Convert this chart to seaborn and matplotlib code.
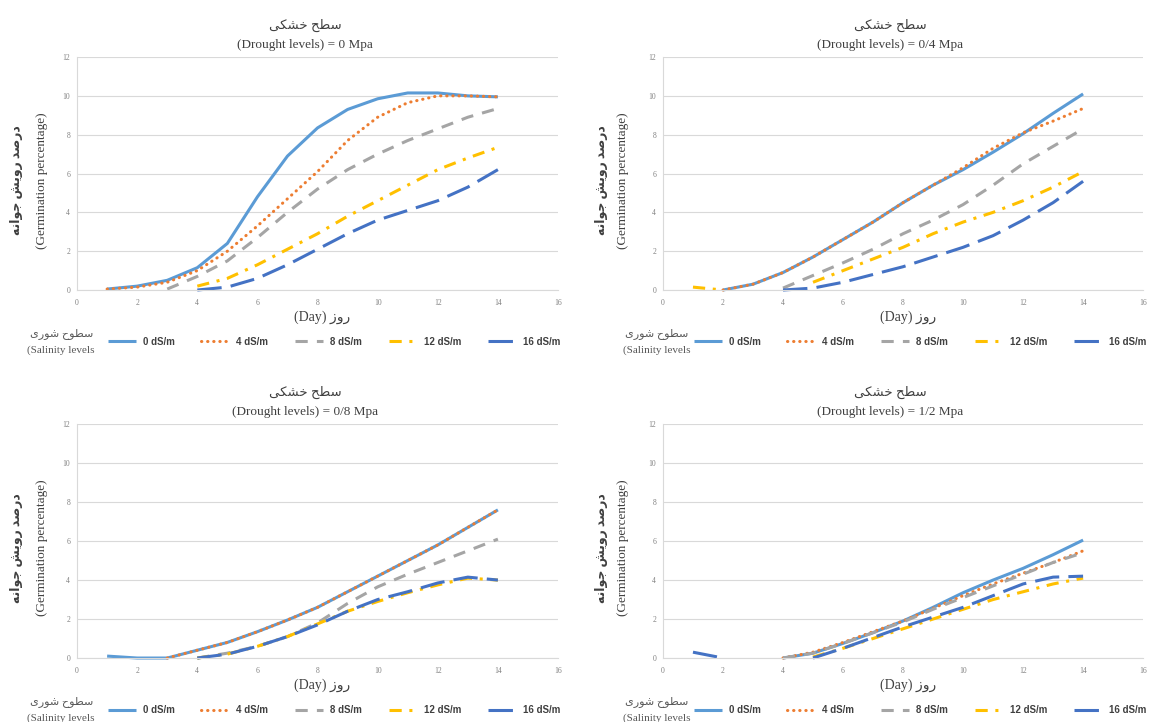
import matplotlib
matplotlib.use('Agg')
import matplotlib.pyplot as plt
import seaborn as sns

# days on the x axis
days = list(range(1, 15))

series_labels = ['0 dS/m', '4 dS/m', '8 dS/m', '12 dS/m', '16 dS/m']
panel_titles = ['(Drought levels) = 0 Mpa', '(Drought levels) = 0/4 Mpa',
                '(Drought levels) = 0/8 Mpa', '(Drought levels) = 1/2 Mpa']

# germination values (None = no point)
# drought 0 Mpa
a_0 = [0.05, 0.2, 0.5, 1.15, 2.4, 4.8, 6.9, 8.35, 9.3, 9.85, 10.15, 10.15, 10.0, 9.95]
a_4 = [0.05, 0.15, 0.4, 1.0, 2.0, 3.3, 4.7, 6.1, 7.7, 8.9, 9.65, 10.0, 10.0, 9.95]
a_8 = [None, None, 0.05, 0.7, 1.5, 2.7, 4.0, 5.2, 6.2, 7.0, 7.7, 8.3, 8.9, 9.35]
a_12 = [None, None, None, 0.2, 0.6, 1.3, 2.1, 2.9, 3.8, 4.6, 5.4, 6.2, 6.8, 7.35]
a_16 = [None, None, None, 0.0, 0.15, 0.6, 1.3, 2.1, 2.9, 3.6, 4.1, 4.6, 5.3, 6.2]
# drought 0/4 Mpa
b_0 = [None, 0.0, 0.3, 0.9, 1.7, 2.6, 3.5, 4.5, 5.4, 6.2, 7.1, 8.05, 9.1, 10.1]
b_4 = [None, 0.0, 0.3, 0.9, 1.7, 2.6, 3.5, 4.5, 5.4, 6.3, 7.3, 8.1, 8.7, 9.35]
b_8 = [None, None, None, 0.1, 0.75, 1.4, 2.1, 2.9, 3.6, 4.4, 5.4, 6.5, 7.4, 8.3]
b_12 = [0.15, 0.0, None, None, 0.4, 1.0, 1.6, 2.2, 2.9, 3.5, 4.0, 4.6, 5.3, 6.1]
b_16 = [None, None, None, 0.0, 0.1, 0.4, 0.8, 1.2, 1.7, 2.2, 2.8, 3.6, 4.5, 5.6]
# drought 0/8 Mpa
c_0 = [0.1, 0.0, 0.0, 0.4, 0.8, 1.35, 1.95, 2.6, 3.4, 4.2, 5.0, 5.8, 6.7, 7.6]
c_4 = [None, None, 0.0, 0.4, 0.8, 1.35, 1.95, 2.6, 3.4, 4.2, 5.0, 5.8, 6.7, 7.6]
c_8 = [None, None, None, 0.0, 0.25, 0.6, 1.1, 1.8, 2.8, 3.65, 4.3, 4.9, 5.5, 6.1]
c_12 = [None, None, None, 0.0, 0.2, 0.6, 1.1, 1.75, 2.4, 2.9, 3.35, 3.75, 4.1, 4.0]
c_16 = [None, None, None, 0.0, 0.2, 0.6, 1.1, 1.7, 2.4, 3.0, 3.4, 3.85, 4.15, 4.0]
# drought 1/2 Mpa
d_0 = [None, None, None, 0.0, 0.25, 0.75, 1.3, 1.9, 2.6, 3.35, 4.0, 4.6, 5.3, 6.05]
d_4 = [None, None, None, 0.0, 0.3, 0.8, 1.35, 1.9, 2.55, 3.2, 3.8, 4.35, 4.9, 5.5]
d_8 = [None, None, None, 0.0, 0.25, 0.75, 1.3, 1.85, 2.5, 3.1, 3.7, 4.3, 4.9, 5.4]
d_12 = [None, None, None, None, 0.05, 0.5, 1.0, 1.5, 2.0, 2.5, 3.0, 3.4, 3.8, 4.1]
d_16 = [0.3, 0.0, None, None, 0.0, 0.5, 1.05, 1.6, 2.1, 2.6, 3.2, 3.8, 4.15, 4.2]

panels = [[a_0, a_4, a_8, a_12, a_16], [b_0, b_4, b_8, b_12, b_16],
          [c_0, c_4, c_8, c_12, c_16], [d_0, d_4, d_8, d_12, d_16]]

colors = ['#5B9BD5', '#ED7D31', '#A5A5A5', '#FFC000', '#4472C4']
styles = [(0, ()), (0, (0.1, 1.9)), (0, (4, 3)), (0, (4, 2.5, 1, 2.5)), (0, (8, 3))]

# Persian text in presentation forms, visual order (matplotlib does not shape Arabic)
fa_title = '\uFEF0\uFEDC\uFEB8\uFEA7 \uFEA2\uFEC4\uFEB3'            # سطح خشکی
fa_ylabel = '\uFEEA\uFEE7\uFE8D\uFEEE\uFE9F \uFEB6\uFEF3\uFEED\uFEAD \uFEAA\uFEBB\uFEAD\uFEA9'  # درصد رویش جوانه
fa_day = '\uFEAF\uFEED\uFEAD'                                         # روز
fa_salt = '\uFEEF\uFEAD\uFEEE\uFEB7 \uFEA1\uFEEE\uFEC4\uFEB3'        # سطوح شوری

sns.set_style('white')
plt.rcParams['font.family'] = ['Liberation Serif', 'DejaVu Sans']

fig = plt.figure(figsize=(11.57, 7.22), dpi=100)
positions = [[0.0666, 0.5983, 0.4157, 0.3227], [0.573, 0.5983, 0.415, 0.3227],
             [0.0666, 0.0886, 0.4157, 0.324], [0.573, 0.0886, 0.415, 0.324]]


def runs(xs, ys):
    seg_x, seg_y = [], []
    for x, y in zip(xs, ys):
        if y is None:
            if seg_x:
                yield seg_x, seg_y
            seg_x, seg_y = [], []
        else:
            seg_x.append(x)
            seg_y.append(y)
    if seg_x:
        yield seg_x, seg_y


txt = '#404040'
for i, (pos, data, title) in enumerate(zip(positions, panels, panel_titles)):
    ax = fig.add_axes(pos)
    right = i % 2 == 1
    handles = []
    for vals, lab, col, ls in zip(data, series_labels, colors, styles):
        first = True
        for sx, sy in runs(days, vals):
            if len(sx) < 2:
                continue
            sns.lineplot(x=sx, y=sy, ax=ax, color=col, linewidth=2.2, linestyle=ls,
                         dash_capstyle='round' if lab == '4 dS/m' else 'butt',
                         clip_on=False, label=lab if first else '_nolegend_')
            if first:
                handles.append(ax.get_lines()[-1])
            first = False

    ax.set_xlim(0, 16)
    ax.set_ylim(0, 12)
    ax.set_xticks(range(0, 17, 2))
    ax.set_yticks(range(0, 13, 2))
    ax.grid(axis='y', color='#D9D9D9', linewidth=0.8)
    ax.set_axisbelow(True)
    for s in ['top', 'right']:
        ax.spines[s].set_visible(False)
    for s in ['left', 'bottom']:
        ax.spines[s].set_color('#D9D9D9')
        ax.spines[s].set_linewidth(0.8)
    ax.tick_params(length=0, labelsize=5.5, labelcolor='#808080')
    ax.tick_params(axis='x', pad=6.5)
    ax.tick_params(axis='y', pad=5)
    ax.set_xlabel('')
    ax.set_ylabel('')

    # titles
    ax.text(0.474, 1.0 + 32 / 233, fa_title, transform=ax.transAxes, ha='center',
            va='center', fontsize=9.5, color=txt)
    ax.text(0.474, 1.0 + 12 / 233, title, transform=ax.transAxes, ha='center',
            va='center', fontsize=9.5, color=txt)

    # y label, two lines
    yl_fa = -0.127 if right else -0.125
    yl_en = -0.083 if right else -0.073
    ax.text(yl_fa, 0.47, fa_ylabel, transform=ax.transAxes, rotation=90, ha='center',
            va='center', fontsize=9, fontweight='bold', color=txt)
    ax.text(yl_en, 0.47, '(Germination percentage)', transform=ax.transAxes,
            rotation=90, ha='center', va='center', fontsize=9.5, color=txt)

    # x label
    ax.text(0.51, -27 / 233, '(Day) ' + fa_day, transform=ax.transAxes, ha='center',
            va='center', fontsize=10, color=txt)

    # legend and its title at left
    leg = ax.legend(handles=handles, labels=series_labels, loc='center left',
                    bbox_to_anchor=(0.064, -0.222), ncol=5, frameon=False,
                    handlelength=2.9, handletextpad=0.7, columnspacing=2.75,
                    borderaxespad=0, borderpad=0,
                    prop={'family': 'Liberation Sans', 'weight': 'bold', 'size': 7})
    for t in leg.get_texts():
        t.set_color(txt)
    lx = -0.0125 if right else -0.033
    ax.text(lx, -0.185, fa_salt, transform=ax.transAxes, ha='center', va='center',
            fontsize=8, color='#595959')
    ax.text(lx, -0.258, '(Salinity levels', transform=ax.transAxes, ha='center',
            va='center', fontsize=8, color='#595959')

fig.savefig('out.png', dpi=100)
